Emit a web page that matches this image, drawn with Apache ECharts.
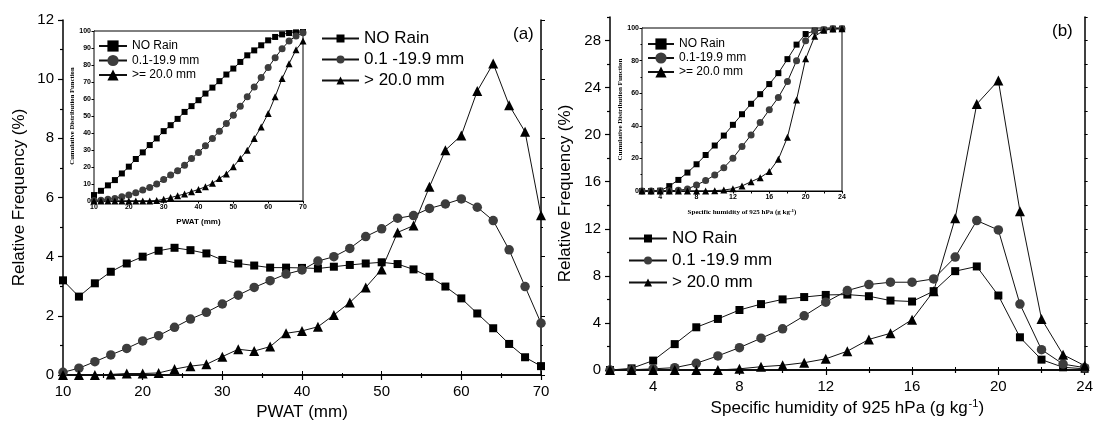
<!DOCTYPE html>
<html>
<head>
<meta charset="utf-8">
<script src="https://cdn.jsdelivr.net/npm/echarts@6/dist/echarts.min.js"></script>
<style>
  html, body { margin: 0; padding: 0; background: #fff; }
  #chart { width: 1096px; height: 428px; }
</style>
</head>
<body>
<div id="chart"></div>
<script>
// ---- (a) PWAT, mm ----
const pwat = [10,12,14,16,18,20,22,24,26,28,30,32,34,36,38,40,42,44,46,48,50,52,54,56,58,60,62,64,66,68,70];
const noRainA = [3.2,2.65,3.1,3.49,3.77,4.0,4.2,4.3,4.22,4.11,3.89,3.77,3.7,3.63,3.63,3.62,3.6,3.66,3.72,3.77,3.81,3.75,3.57,3.32,2.99,2.59,2.08,1.58,1.05,0.6,0.3];
const lightA = [0.09,0.23,0.45,0.68,0.9,1.15,1.33,1.61,1.89,2.12,2.4,2.7,2.96,3.19,3.41,3.55,3.85,4.0,4.28,4.68,4.94,5.3,5.39,5.63,5.78,5.95,5.67,5.22,4.23,2.99,1.75];
const heavyA = [0,0,0,0.02,0.05,0.05,0.07,0.2,0.3,0.36,0.62,0.87,0.81,0.96,1.41,1.49,1.63,2.03,2.45,2.96,3.57,4.82,5.05,6.36,7.6,8.1,9.6,10.53,9.12,8.22,5.4];
// cumulative distribution (inset a)
const cdfNoRainA = [3.5,6,9.2,12.3,16.2,20.2,24.7,28.6,32.9,36.8,41.1,44.6,48.3,52.4,55.8,59.3,63.2,66.7,70.5,74.4,77.9,81.8,85.7,88.6,91.6,94.5,96.5,98,98.8,99.2,99.4];
const cdfLightA = [0.3,0.5,1,1.5,2.5,3.5,4.9,6.5,8,10,12.7,15.3,17.8,21.1,25,28.6,32.5,36.8,41.1,45.6,50.5,55.8,61.3,67.1,72.6,78.5,84.3,89.6,94.1,97.1,99];
const cdfHeavyA = [0,0,0,0,0,0,0,0,0,0.3,1,2,3.1,4.1,5.5,6.8,8.4,10.4,13.3,15.9,20.2,25,29.9,36.8,43.6,51.5,61.3,72,80.8,89,94.1];

// ---- (b) specific humidity at 925 hPa, g/kg ----
const shum = [2,3,4,5,6,7,8,9,10,11,12,13,14,15,16,17,18,19,20,21,22,23,24];
const noRainB = [0,0.14,0.8,2.2,3.63,4.34,5.1,5.6,6.0,6.2,6.38,6.41,6.27,5.9,5.82,6.7,8.4,8.8,6.33,2.78,0.88,0.23,0.1];
const lightB = [0,0.02,0.1,0.2,0.57,1.2,1.9,2.7,3.5,4.6,5.76,6.75,7.26,7.46,7.46,7.74,9.6,12.7,11.9,5.6,1.73,0.5,0.2];
const heavyB = [0,0,0,0,0,0,0.1,0.28,0.4,0.62,0.95,1.6,2.6,3.12,4.28,6.7,12.9,22.6,24.6,13.5,4.34,1.3,0.37];
const cdfNoRainB = [0,0,0.2,3,6.8,11.3,16.4,22.1,27.9,34,40.6,47.1,53.5,59.4,65.6,72.3,80.9,89.8,96.3,98.4,99,99.6,99.6];
const cdfLightB = [0,0,0,0.2,0.4,1.2,3.7,6.4,9.8,14.3,20.1,27.3,34.4,42,49.8,57.4,67.2,79.9,92.2,98,99,99.6,99.6];
const cdfHeavyB = [0,0,0,0,0,0,0,0,0.2,0.6,1.4,3.1,5.7,8.2,11.9,19.5,33,55.9,81.1,94.9,98.6,99.4,99.6];

// tick and legend text
const mainNames = ['NO Rain', '0.1 -19.9 mm', '> 20.0 mm'];
const insetNames = ['NO Rain', '0.1-19.9 mm', '>= 20.0 mm'];
const shumLabels = [4, 8, 12, 16, 20, 24];
const shumMinor = [6, 10, 14, 18, 22];
const freqLabelsB = [0, 4, 8, 12, 16, 20, 24, 28];
const freqMinorB = [2, 6, 10, 14, 18, 22, 26, 30];

const SANS = 'Liberation Sans, Arial, Helvetica, sans-serif';
const SERIF = 'Liberation Serif, Times New Roman, serif';
const INK = '#000';
const GREY = '#3d3d3d';

const chart = echarts.init(document.getElementById('chart'), null, { renderer: 'canvas' });

function line(name, symbol, size, color, xi, yi, xs, ys, z) {
  return {
    type: 'line', name, xAxisIndex: xi, yAxisIndex: yi,
    data: xs.map((x, i) => [x, ys[i]]),
    symbol, symbolSize: size, showSymbol: true, clip: false,
    itemStyle: { color, borderWidth: 0 },
    lineStyle: { color: '#111', width: 1 },
    emphasis: { disabled: true }, z
  };
}

const mainLine = { show: true, lineStyle: { color: INK, width: 1.5 } };
const mainLabel = { color: INK, fontSize: 15, fontFamily: SANS };
const insetLabel = { color: INK, fontSize: 7, fontFamily: SANS, fontWeight: 'bold', margin: 3 };
const noSplit = { show: false };

const xAxis = [
  // 0: (a) bottom
  { gridIndex: 0, type: 'value', min: 10, max: 70, interval: 10, position: 'bottom',
    axisLine: mainLine, axisTick: { length: 5, lineStyle: { color: INK, width: 1.2 } },
    minorTick: { show: true, splitNumber: 2, length: 3, lineStyle: { color: INK, width: 1.2 } },
    axisLabel: Object.assign({ margin: 9 }, mainLabel), splitLine: noSplit,
    name: 'PWAT (mm)', nameLocation: 'middle', nameGap: 26,
    nameTextStyle: { color: INK, fontSize: 17, fontFamily: SANS } },
  // 1: (a) top frame
  { gridIndex: 0, type: 'value', min: 10, max: 70, interval: 10, position: 'top',
    axisLine: mainLine, axisTick: { length: 4, lineStyle: { color: INK } },
    minorTick: { show: true, splitNumber: 2, length: 2, lineStyle: { color: INK } },
    axisLabel: { show: false }, splitLine: noSplit },
  // 2: (a) inset
  { gridIndex: 1, type: 'value', min: 10, max: 70, interval: 10,
    axisLine: { show: true, lineStyle: { color: INK, width: 1 } },
    axisTick: { length: 2.5, lineStyle: { color: INK } }, axisLabel: insetLabel, splitLine: noSplit,
    name: 'PWAT (mm)', nameLocation: 'middle', nameGap: 17,
    nameTextStyle: { color: INK, fontSize: 8, fontFamily: SANS, fontWeight: 'bold' } },
  // 3: (b) bottom
  { gridIndex: 2, type: 'value', min: 2, max: 24, position: 'bottom',
    axisLine: mainLine,
    axisTick: { length: 5, customValues: shumLabels, lineStyle: { color: INK, width: 1.2 } },
    axisLabel: Object.assign({ margin: 9, customValues: shumLabels }, mainLabel), splitLine: noSplit,
    name: 'Specific humidity of 925 hPa (g kg{sup|-1})', nameLocation: 'middle', nameGap: 28,
    nameTextStyle: { color: INK, fontSize: 17, fontFamily: SANS,
      rich: { sup: { fontSize: 11, fontFamily: SANS, color: INK, verticalAlign: 'top', padding: [0, 0, 8, 1] } } } },
  // 4: (b) bottom minor ticks
  { gridIndex: 2, type: 'value', min: 2, max: 24, position: 'bottom', offset: 0,
    axisLine: { show: false },
    axisTick: { length: 3, customValues: shumMinor, lineStyle: { color: INK, width: 1.2 } },
    axisLabel: { show: false }, splitLine: noSplit },
  // 5: (b) top frame
  { gridIndex: 2, type: 'value', min: 2, max: 24, position: 'top',
    axisLine: mainLine,
    axisTick: { length: 3, customValues: shumLabels.concat(shumMinor), lineStyle: { color: INK } },
    axisLabel: { show: false }, splitLine: noSplit },
  // 6: (b) inset
  { gridIndex: 3, type: 'value', min: 2, max: 24,
    axisLine: { show: true, lineStyle: { color: INK, width: 1 } },
    axisTick: { length: 2.5, customValues: shumLabels.concat(shumMinor), lineStyle: { color: INK } },
    axisLabel: Object.assign({ customValues: shumLabels }, insetLabel), splitLine: noSplit,
    name: 'Specific humidity of 925 hPa (g kg{s|-1})', nameLocation: 'middle', nameGap: 17,
    nameTextStyle: { color: INK, fontSize: 7, fontFamily: SERIF, fontWeight: 'bold',
      rich: { s: { fontSize: 5, fontFamily: SERIF, fontWeight: 'bold', color: INK, verticalAlign: 'top', padding: [0, 0, 4, 0] } } } }
];

const yAxis = [
  // 0: (a) left
  { gridIndex: 0, type: 'value', min: 0, max: 12, interval: 2, position: 'left',
    axisLine: mainLine, axisTick: { length: 5, lineStyle: { color: INK, width: 1.2 } },
    minorTick: { show: true, splitNumber: 2, length: 3, lineStyle: { color: INK, width: 1.2 } },
    axisLabel: Object.assign({ margin: 9 }, mainLabel), splitLine: noSplit,
    name: 'Relative Frequency (%)', nameLocation: 'middle', nameGap: 35,
    nameTextStyle: { color: INK, fontSize: 17, fontFamily: SANS } },
  // 1: (a) right frame
  { gridIndex: 0, type: 'value', min: 0, max: 12, interval: 2, position: 'right',
    axisLine: mainLine, axisTick: { length: 4, lineStyle: { color: INK } },
    minorTick: { show: true, splitNumber: 2, length: 2, lineStyle: { color: INK } },
    axisLabel: { show: false }, splitLine: noSplit },
  // 2: (a) inset
  { gridIndex: 1, type: 'value', min: 0, max: 100, interval: 10,
    axisLine: { show: true, lineStyle: { color: INK, width: 1 } },
    axisTick: { length: 2.5, lineStyle: { color: INK } }, axisLabel: insetLabel, splitLine: noSplit,
    name: 'Cumulative Distribution Function', nameLocation: 'middle', nameGap: 16,
    nameTextStyle: { color: INK, fontSize: 6.7, fontFamily: SERIF, fontWeight: 'bold' } },
  // 3: (b) left
  { gridIndex: 2, type: 'value', min: 0, max: 30, position: 'left',
    axisLine: mainLine,
    axisTick: { length: 5, customValues: freqLabelsB, lineStyle: { color: INK, width: 1.2 } },
    axisLabel: Object.assign({ margin: 9, customValues: freqLabelsB }, mainLabel), splitLine: noSplit,
    name: 'Relative Frequency (%)', nameLocation: 'middle', nameGap: 36,
    nameTextStyle: { color: INK, fontSize: 17, fontFamily: SANS } },
  // 4: (b) left minor ticks
  { gridIndex: 2, type: 'value', min: 0, max: 30, position: 'left', offset: 0,
    axisLine: { show: false },
    axisTick: { length: 3, customValues: freqMinorB, lineStyle: { color: INK, width: 1.2 } },
    axisLabel: { show: false }, splitLine: noSplit },
  // 5: (b) right frame
  { gridIndex: 2, type: 'value', min: 0, max: 30, position: 'right',
    axisLine: mainLine,
    axisTick: { length: 3, customValues: freqLabelsB.concat(freqMinorB), lineStyle: { color: INK } },
    axisLabel: { show: false }, splitLine: noSplit },
  // 6: (b) inset
  { gridIndex: 3, type: 'value', min: 0, max: 100, interval: 20,
    axisLine: { show: true, lineStyle: { color: INK, width: 1 } },
    axisTick: { length: 2.5, lineStyle: { color: INK } },
    minorTick: { show: true, splitNumber: 2, length: 1.5, lineStyle: { color: INK } },
    axisLabel: insetLabel, splitLine: noSplit,
    name: 'Cumulative Distribution Function', nameLocation: 'middle', nameGap: 13,
    nameTextStyle: { color: INK, fontSize: 7, fontFamily: SERIF, fontWeight: 'bold' } }
];

const legendBase = {
  orient: 'vertical', selectedMode: false, padding: 0,
  textStyle: { color: INK, fontFamily: SANS }
};

const option = {
  animation: false,
  backgroundColor: '#fff',
  grid: [
    { left: 63, top: 20, width: 478, height: 355 },
    { left: 94, top: 31, width: 209, height: 170, show: true, backgroundColor: '#fff', borderColor: INK, borderWidth: 1, z: 3 },
    { left: 610, top: 17, width: 477, height: 353 },
    { left: 642, top: 28, width: 200, height: 163, show: true, backgroundColor: '#fff', borderColor: INK, borderWidth: 1, z: 3 }
  ],
  xAxis, yAxis,
  legend: [
    Object.assign({}, legendBase, { left: 321, top: 30, data: mainNames, itemWidth: 37, itemHeight: 10, itemGap: 4,
      textStyle: { color: INK, fontFamily: SANS, fontSize: 17 } }),
    Object.assign({}, legendBase, { left: 98, top: 40, data: insetNames, itemWidth: 28, itemHeight: 14, itemGap: 2.5,
      textStyle: { color: INK, fontFamily: SANS, fontSize: 12 } }),
    Object.assign({}, legendBase, { left: 628, top: 230, data: mainNames, itemWidth: 38, itemHeight: 10, itemGap: 5,
      textStyle: { color: INK, fontFamily: SANS, fontSize: 17 } }),
    Object.assign({}, legendBase, { left: 647, top: 38, data: insetNames, itemWidth: 26, itemHeight: 14, itemGap: 2,
      textStyle: { color: INK, fontFamily: SANS, fontSize: 12 } })
  ],
  graphic: [
    { type: 'text', left: 513, top: 26, style: { text: '(a)', fontSize: 17, fontFamily: SANS, fill: INK } },
    { type: 'text', left: 1052, top: 23, style: { text: '(b)', fontSize: 17, fontFamily: SANS, fill: INK } }
  ],
  series: [
    line(mainNames[0], 'rect', 8, INK, 0, 0, pwat, noRainA, 4),
    line(mainNames[1], 'circle', 9.5, GREY, 0, 0, pwat, lightA, 4),
    line(mainNames[2], 'triangle', 10, INK, 0, 0, pwat, heavyA, 4),
    line(insetNames[0], 'rect', 6, INK, 2, 2, pwat, cdfNoRainA, 5),
    line(insetNames[1], 'circle', 7, GREY, 2, 2, pwat, cdfLightA, 5),
    line(insetNames[2], 'triangle', 7, INK, 2, 2, pwat, cdfHeavyA, 5),
    line(mainNames[0], 'rect', 8, INK, 3, 3, shum, noRainB, 4),
    line(mainNames[1], 'circle', 9.5, GREY, 3, 3, shum, lightB, 4),
    line(mainNames[2], 'triangle', 10, INK, 3, 3, shum, heavyB, 4),
    line(insetNames[0], 'rect', 6, INK, 6, 6, shum, cdfNoRainB, 5),
    line(insetNames[1], 'circle', 7, GREY, 6, 6, shum, cdfLightB, 5),
    line(insetNames[2], 'triangle', 7, INK, 6, 6, shum, cdfHeavyB, 5)
  ]
};

chart.setOption(option);
</script>
</body>
</html>
